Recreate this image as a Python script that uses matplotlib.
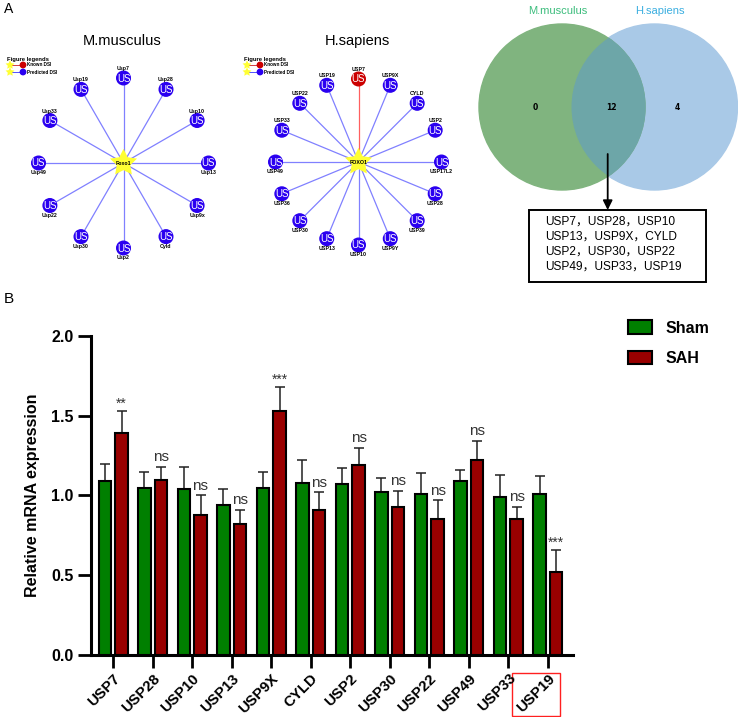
import numpy as np
import matplotlib
matplotlib.use("Agg")
import matplotlib.pyplot as plt
from matplotlib.patches import Circle, Rectangle

plt.rcParams['font.family'] = ['Liberation Sans', 'Noto Sans CJK SC', 'DejaVu Sans']

# ---------------- data ----------------
genes = ['USP7', 'USP28', 'USP10', 'USP13', 'USP9X', 'CYLD', 'USP2', 'USP30',
         'USP22', 'USP49', 'USP33', 'USP19']
sham = [1.09, 1.05, 1.04, 0.94, 1.05, 1.08, 1.07, 1.02, 1.01, 1.09, 0.99, 1.01]
sham_err = [0.11, 0.10, 0.14, 0.10, 0.10, 0.14, 0.10, 0.09, 0.13, 0.07, 0.14, 0.11]
sah = [1.39, 1.10, 0.88, 0.82, 1.53, 0.91, 1.19, 0.93, 0.85, 1.22, 0.85, 0.52]
sah_err = [0.14, 0.08, 0.12, 0.09, 0.15, 0.11, 0.11, 0.10, 0.12, 0.12, 0.08, 0.14]
sig = ['**', 'ns', 'ns', 'ns', '***', 'ns', 'ns', 'ns', 'ns', 'ns', 'ns', '***']
yticks = [0.0, 0.5, 1.0, 1.5, 2.0]

mm_nodes = ['Usp7', 'Usp28', 'Usp10', 'Usp13', 'Usp9x', 'Cyld', 'Usp2', 'Usp30',
            'Usp22', 'Usp49', 'Usp33', 'Usp19']
mm_center = 'Foxo1'
hs_nodes = ['USP7', 'USP9X', 'CYLD', 'USP2', 'USP17L2', 'USP28', 'USP39', 'USP9Y',
            'USP10', 'USP13', 'USP30', 'USP36', 'USP49', 'USP33', 'USP22', 'USP19']
hs_center = 'FOXO1'
hs_known = ['USP7']

venn_sets = ['M.musculus', 'H.sapiens']
venn_counts = [0, 12, 4]   # only M.musculus, shared, only H.sapiens
shared_genes = ['USP7', 'USP28', 'USP10', 'USP13', 'USP9X', 'CYLD',
                'USP2', 'USP30', 'USP22', 'USP49', 'USP33', 'USP19']

# ---------------- figure ----------------
W, H = 738, 717
fig = plt.figure(figsize=(W / 100, H / 100), dpi=100)
ax0 = fig.add_axes([0, 0, 1, 1])
ax0.set_xlim(0, W)
ax0.set_ylim(H, 0)
ax0.axis('off')
ax0.set_zorder(0)

ax0.text(4, 9, 'A', fontsize=10, va='center', ha='left')
ax0.text(4, 299, 'B', fontsize=11, va='center', ha='left')

BLUE = '#2a00f0'
RED_NODE = '#cc0000'
EDGE_BLUE = '#8080ff'
EDGE_RED = '#ff6060'
STAR = '#ffff33'


def draw_network(cx, cy, r, nodes, center, known, title, tx, legend_x):
    ax0.text(tx, 41, title, fontsize=10.5, ha='center', va='center')
    n = len(nodes)
    for i, name in enumerate(nodes):
        ang = np.deg2rad(90 - 360.0 * i / n)
        x = cx + r * np.cos(ang)
        y = cy - r * np.sin(ang)
        is_known = name in known
        ax0.plot([cx, x], [cy, y], color=EDGE_RED if is_known else EDGE_BLUE,
                 lw=0.9, zorder=1)
        ax0.add_patch(Circle((x, y), 6.8, color=RED_NODE if is_known else BLUE,
                             zorder=2))
        ax0.text(x, y + 0.5, 'US', color='white', fontsize=7, ha='center',
                 va='center', zorder=3)
        if np.sin(ang) > 0.01:
            ax0.text(x, y - 9.5, name, fontsize=3.8, fontweight='bold',
                     ha='center', va='center', zorder=3)
        else:
            ax0.text(x, y + 9.5, name, fontsize=3.8, fontweight='bold',
                     ha='center', va='center', zorder=3)
    ax0.scatter([cx], [cy], marker=(5, 1, 0), s=420, color=STAR,
                edgecolors='none', zorder=4)
    ax0.text(cx, cy + 0.5, center, fontsize=3.8, fontweight='bold',
             ha='center', va='center', zorder=5)
    # legend
    ax0.text(legend_x, 59, 'Figure legends', fontsize=4.2, fontweight='bold',
             ha='left', va='center')
    for yy, col, ecol, lab in [(65, RED_NODE, '#d04040', 'Known DSI'),
                               (72, BLUE, '#5050ff', 'Predicted DSI')]:
        ax0.plot([legend_x + 3, legend_x + 15], [yy, yy], color=ecol, lw=0.7)
        ax0.scatter([legend_x + 3], [yy], marker=(5, 1, 0), s=45, color=STAR,
                    edgecolors='none', zorder=3)
        ax0.add_patch(Circle((legend_x + 16, yy), 2.7, color=col, zorder=3))
        ax0.text(legend_x + 20, yy, lab, fontsize=3.3, fontweight='bold',
                 ha='left', va='center')


draw_network(123.5, 163, 85, mm_nodes, mm_center, [], 'M.musculus', 122, 7)
draw_network(358.5, 162, 83, hs_nodes, hs_center, hs_known, 'H.sapiens', 357, 244)

# ---------------- venn ----------------
c1 = Circle((562, 107), 83, color='#80b47f', zorder=1)
c2 = Circle((654.5, 107), 83, color='#a9c9e7', zorder=1)
ax0.add_patch(c2)
ax0.add_patch(c1)
c3 = Circle((562, 107), 83, color='#6da6a8', zorder=2)
ax0.add_patch(c3)
c3.set_clip_path(c2)
ax0.text(557.5, 11.5, venn_sets[0], color='#3dbd7d', fontsize=8, ha='center', va='center')
ax0.text(659.5, 11.5, venn_sets[1], color='#3aaee0', fontsize=8, ha='center', va='center')
for xx, v in zip([535, 611, 677.5], venn_counts):
    ax0.text(xx, 107.5, str(v), fontsize=5.5, fontweight='bold', ha='center',
             va='center', zorder=5, family='DejaVu Sans')
ax0.annotate('', xy=(607.7, 210), xytext=(607.7, 154),
             arrowprops=dict(arrowstyle='-|>', color='black', lw=1.3,
                             mutation_scale=14, shrinkA=0, shrinkB=0), zorder=5)
ax0.add_patch(Rectangle((528.5, 209.5), 177, 72, fill=False, lw=1.4,
                        edgecolor='black', zorder=5))
for k in range(4):
    line = '，'.join(shared_genes[3 * k:3 * k + 3])
    ax0.text(545.5, 221.5 + 15.1 * k, line, fontsize=8.6, ha='left',
             va='center', zorder=6)

# red box around USP19 label
ax0.add_patch(Rectangle((512, 672.5), 48, 43.5, fill=False, lw=1.0,
                        edgecolor='#ff2020', zorder=6))

# ---------------- bar chart ----------------
L, R, T, B = 90.7, 572.7, 335.7, 655.3
ax = fig.add_axes([L / W, 1 - B / H, (R - L) / W, (B - T) / H])
ax.set_zorder(2)
ax.patch.set_visible(False)

x = np.arange(len(genes))
bw = 0.32
off = 0.21
ax.bar(x - off, sham, bw, color='#007f00', edgecolor='black', lw=1.5,
       label='Sham', zorder=3)
ax.bar(x + off, sah, bw, color='#990000', edgecolor='black', lw=1.5,
       label='SAH', zorder=3)
ax.errorbar(x - off, sham, yerr=[np.zeros(len(sham)), sham_err], fmt='none',
            ecolor='#222222', elinewidth=1.1, capsize=3.5, capthick=1.1, zorder=2)
ax.errorbar(x + off, sah, yerr=[np.zeros(len(sah)), sah_err], fmt='none',
            ecolor='#222222', elinewidth=1.1, capsize=3.5, capthick=1.1, zorder=2)
for xi, v, e, s in zip(x, sah, sah_err, sig):
    ax.annotate(s, (xi + off, v + e), xytext=(0, 2 if s == 'ns' else 0),
                textcoords='offset points', ha='center', va='bottom',
                fontsize=11 if s == 'ns' else 10, color='#333333')

ax.set_ylim(0, 2.0)
ax.set_xlim(-0.57, 11.63)
ax.set_yticks(yticks)
ax.set_yticklabels([f'{t:.1f}' for t in yticks], fontsize=11.5, fontweight='bold')
ax.set_xticks(x)
ax.set_xticklabels(genes, rotation=45, ha='right', va='top', rotation_mode='anchor',
                   fontsize=10.8, fontweight='bold')
ax.tick_params(axis='both', direction='out', length=9.5, width=2, pad=3)
ax.tick_params(axis='x', pad=2)
for sp in ['top', 'right']:
    ax.spines[sp].set_visible(False)
for sp in ['left', 'bottom']:
    ax.spines[sp].set_linewidth(2.2)
ax.set_ylabel('Relative mRNA expression', fontsize=11.5, fontweight='bold', labelpad=8)

fig.legend(loc='upper left', bbox_to_anchor=(614 / W, 1 - 306 / H), frameon=False,
           prop={'weight': 'bold', 'size': 11.5}, handlelength=1.5, handleheight=0.9,
           labelspacing=0.95, handletextpad=0.8)

fig.savefig('out.png', dpi=100)
